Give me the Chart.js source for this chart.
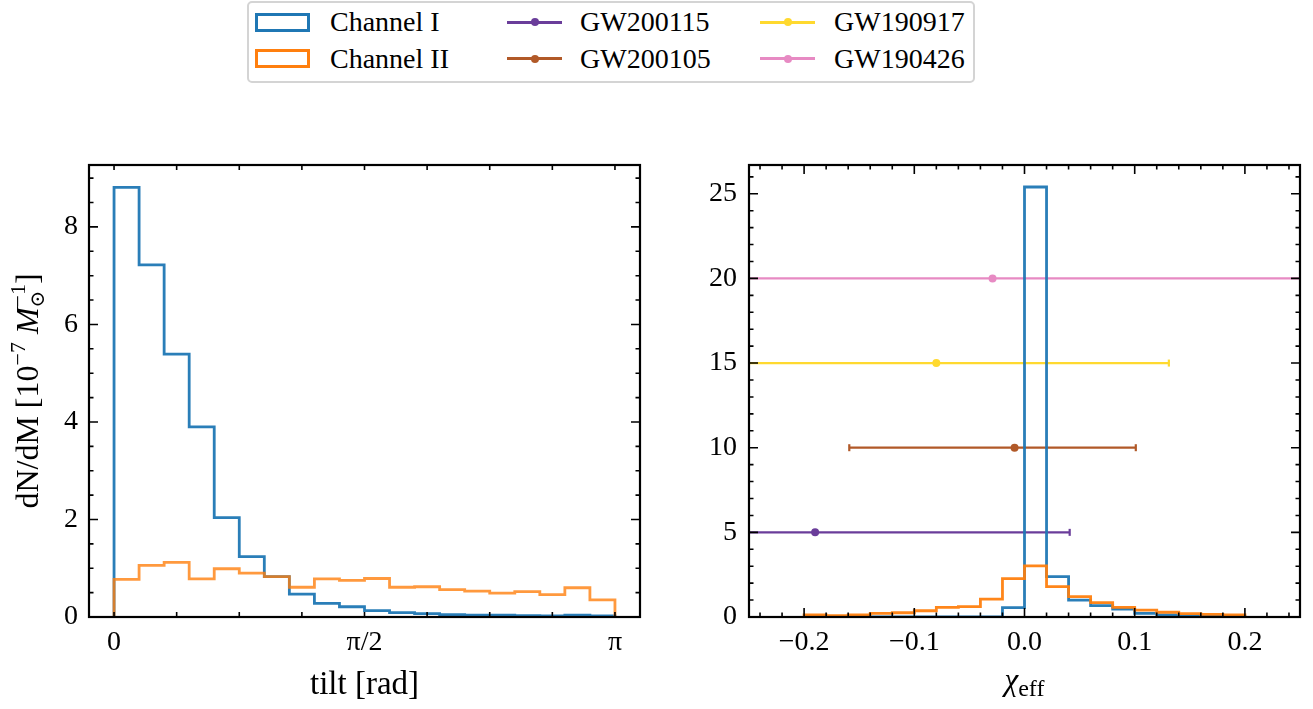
<!DOCTYPE html>
<html>
<head>
<meta charset="utf-8">
<title>Tilt and chi_eff distributions</title>
<script src="https://cdn.jsdelivr.net/npm/chart.js@4.4.1/dist/chart.umd.min.js"></script>
<style>
  html, body { margin: 0; padding: 0; background: #fff; }
  #page { position: relative; width: 1313px; height: 709px; overflow: hidden; font-family: "Liberation Serif", "DejaVu Serif", serif; }
  #tiltChart { position: absolute; left: 0; top: 0; }
  #chiChart { position: absolute; left: 690px; top: 0; }
  #legend { position: absolute; left: 247px; top: 1px; width: 728px; height: 82px; box-sizing: border-box;
            border: 2px solid #d4d4d4; border-radius: 5px; background: #fff; }
  .handle { position: absolute; width: 55px; }
  .patch { height: 19px; box-sizing: border-box; border: 3px solid; background: #fff; }
  .line { height: 3px; }
  .dot { position: absolute; left: 23.5px; top: -2.5px; width: 8px; height: 8px; border-radius: 50%; }
  .label { position: absolute; height: 32px; line-height: 32px; font-size: 28px; white-space: nowrap; color: #000; }
</style>
</head>
<body>
<div id="page">
  <div id="legend"></div>
  <canvas id="tiltChart" width="690" height="709"></canvas>
  <canvas id="chiChart" width="623" height="709"></canvas>
</div>
<script>
// ================= DATA =================
// left panel: 20 bins over [0, pi]
const tiltTickLabels = ["0", "", "", "", "π/2", "", "", "", "π"];   // ticks every pi/8
const tiltYTicks = [0, 2, 4, 6, 8];
const tiltChannelI  = [8.81, 7.22, 5.39, 3.90, 2.04, 1.24, 0.83, 0.47, 0.28, 0.21,
                       0.13, 0.09, 0.07, 0.05, 0.04, 0.04, 0.03, 0.02, 0.04, 0.02];
const tiltChannelII = [0.77, 1.06, 1.12, 0.78, 0.99, 0.90, 0.83, 0.61, 0.78, 0.75,
                       0.79, 0.61, 0.62, 0.56, 0.53, 0.49, 0.52, 0.46, 0.60, 0.35];

// right panel: 20 bins of 0.02 over [-0.2, 0.2]
const chiTicks = [-0.2, -0.1, 0, 0.1, 0.2];
const chiTickLabels = ["−0.2", "−0.1", "0.0", "0.1", "0.2"];
const chiYTicks = [0, 5, 10, 15, 20, 25];
const chiChannelI  = [0, 0, 0, 0, 0, 0, 0, 0, 0, 0.55,
                      25.4, 2.38, 1.00, 0.67, 0.47, 0.22, 0.12, 0.07, 0.04, 0.02];
const chiChannelII = [0.12, 0.08, 0.12, 0.22, 0.25, 0.37, 0.57, 0.61, 1.05, 2.27,
                      3.02, 1.79, 1.20, 0.85, 0.57, 0.41, 0.28, 0.20, 0.15, 0.12];

// events: level on the y axis, median chi_eff and interval
const eventNames = ["GW200115", "GW200105", "GW190917", "GW190426"];
const eventLevel = [5, 10, 15, 20];
const eventChi   = [-0.19, -0.009, -0.08, -0.029];
const eventLo    = [-0.40, -0.159, -0.40, -0.40];
const eventHi    = [0.041, 0.101, 0.131, 0.40];

// ================= STYLE =================
const BLUE = "#1f77b4";
const ORANGE = "#ff7f0e";
const eventColors = ["#6a3d9a", "#b15928", "#ffd92f", "#e78ac3"];
const SERIF = '"Liberation Serif", "DejaVu Serif", serif';


// ================= HELPERS =================
function stepOutline(start, width, values) {
    const pts = [{ x: start, y: 0 }];
    values.forEach((v, i) => pts.push({ x: start + i * width, y: v }));
    pts.push({ x: start + values.length * width, y: 0 });
    return pts;
}

function histDataset(label, values, start, width, color, order) {
    return {
        label,
        data: stepOutline(start, width, values),
        stepped: true,
        borderColor: color,
        borderWidth: 2.8,
        pointRadius: 0,
        fill: false,
        order
    };
}

function errorBarDataset(i) {
    const y = eventLevel[i];
    const c = eventColors[i];
    return {
        label: eventNames[i],
        data: [{ x: eventLo[i], y }, { x: eventChi[i], y }, { x: eventHi[i], y }],
        borderColor: c,
        borderWidth: 2.2,
        pointStyle: ["line", "circle", "line"],
        pointRotation: [90, 0, 90],
        pointRadius: [3.5, 4, 3.5],
        pointBorderWidth: [2.2, 0, 2.2],
        pointBorderColor: c,
        pointBackgroundColor: c,
        fill: false,
        order: 5
    };
}

function fixedTicks(values) {
    return scale => { scale.ticks = values.map(v => ({ value: v })); };
}


// ================= PLUGINS =================
// inward ticks on all four sides + frame (matplotlib style)
const frameTicks = {
    id: "frameTicks",
    afterDraw(chart, args, o) {
        const { ctx, chartArea: a } = chart;
        const xs = chart.scales.x, ys = chart.scales.y;
        ctx.save();
        ctx.strokeStyle = "#000";
        ctx.lineWidth = 1.6;
        ctx.beginPath();

        const xTick = (v, len) => {
            const p = xs.getPixelForValue(v);
            ctx.moveTo(p, a.bottom); ctx.lineTo(p, a.bottom - len);
            ctx.moveTo(p, a.top); ctx.lineTo(p, a.top + len);
        };
        const yTick = (v, len) => {
            const p = ys.getPixelForValue(v);
            ctx.moveTo(a.left, p); ctx.lineTo(a.left + len, p);
            ctx.moveTo(a.right, p); ctx.lineTo(a.right - len, p);
        };
        const minors = (scale, step, majors) => {
            const out = [];
            if (!step) return out;
            for (let v = Math.ceil(scale.min / step) * step; v <= scale.max + 1e-9; v += step) {
                if (!majors.some(m => Math.abs(m - v) < step / 10)) out.push(v);
            }
            return out;
        };

        const xMaj = xs.ticks.map(t => t.value);
        const yMaj = ys.ticks.map(t => t.value);
        xMaj.forEach(v => xTick(v, o.xMajorLen));
        yMaj.forEach(v => yTick(v, 9));
        minors(xs, o.xMinor, xMaj).forEach(v => xTick(v, 4.5));
        minors(ys, o.yMinor, yMaj).forEach(v => yTick(v, 4.5));
        ctx.stroke();

        ctx.lineWidth = 2.2;
        ctx.strokeRect(a.left, a.top, a.right - a.left, a.bottom - a.top);
        ctx.restore();
    }
};

function drawRuns(ctx, runs, cx, cy, angle) {
    ctx.save();
    ctx.translate(cx, cy);
    ctx.rotate(angle);
    ctx.fillStyle = "#000";
    ctx.textAlign = "left";
    ctx.textBaseline = "alphabetic";
    const fontOf = r => (r.italic ? "italic " : "") + r.size + "px " + SERIF;

    // measure, stacked runs share the x of the previous run
    let total = 0, prevStart = 0, prevW = 0;
    const layout = runs.map(r => {
        ctx.font = fontOf(r);
        const w = ctx.measureText(r.text).width;
        let x;
        if (r.stack) {
            x = prevStart;
            total = prevStart + Math.max(prevW, w);
        } else {
            x = total;
            total += w;
        }
        prevStart = x; prevW = w;
        return x;
    });

    runs.forEach((r, i) => {
        ctx.font = fontOf(r);
        ctx.fillText(r.text, layout[i] - total / 2, r.dy || 0);
    });
    ctx.restore();
}

const axisTitles = {
    id: "axisTitles",
    afterDraw(chart, args, o) {
        (o.items || []).forEach(it => drawRuns(chart.ctx, it.runs, it.x, it.y, it.angle || 0));
    }
};


// ================= OPTIONS =================
function panelOptions(cfg) {
    const font = { family: SERIF, size: 28 };
    return {
        responsive: false,
        animation: false,
        events: [],
        layout: { padding: { top: 165, right: cfg.padRight, bottom: 0, left: 0 } },
        plugins: {
            legend: { display: false },
            tooltip: { enabled: false },
            frameTicks: cfg.ticks,
            axisTitles: { items: cfg.titles }
        },
        scales: {
            x: {
                type: "linear",
                min: cfg.xMin,
                max: cfg.xMax,
                grid: { display: false, drawTicks: false },
                border: { display: false },
                afterBuildTicks: fixedTicks(cfg.xTicks),
                ticks: {
                    autoSkip: false,
                    maxRotation: 0,
                    padding: 9,
                    color: "#000",
                    font,
                    callback: (v, i) => cfg.xLabels[i]
                },
                afterFit: s => { s.height = 92; }
            },
            y: {
                min: 0,
                max: cfg.yMax,
                grid: { display: false, drawTicks: false },
                border: { display: false },
                afterBuildTicks: fixedTicks(cfg.yTicks),
                ticks: {
                    padding: cfg.yPad,
                    color: "#000",
                    font,
                    callback: v => String(v)
                },
                afterFit: s => { s.width = cfg.yWidth; }
            }
        }
    };
}


// ================= CHARTS =================
const TILT_W = Math.PI / tiltChannelI.length;
const CHI_START = -0.2, CHI_W = 0.02;

new Chart(document.getElementById("tiltChart"), {
    type: "line",
    data: {
        datasets: [
            histDataset("Channel I", tiltChannelI, 0, TILT_W, "rgba(31,119,180,0.95)", 1),
            histDataset("Channel II", tiltChannelII, 0, TILT_W, "rgba(255,127,14,0.8)", 0)
        ]
    },
    options: panelOptions({
        padRight: 50, yWidth: 89, yPad: 11,
        xMin: -0.05 * Math.PI, xMax: 1.05 * Math.PI,
        xTicks: tiltTickLabels.map((_, k) => k * Math.PI / 8),
        xLabels: tiltTickLabels,
        yMax: 9.27, yTicks: tiltYTicks,
        ticks: { xMajorLen: 5, xMinor: 0, yMinor: 0.5 },
        titles: [
            { x: 364.5, y: 694, runs: [{ text: "tilt [rad]", size: 33 }] },
            {
                x: 38, y: 391, angle: -Math.PI / 2,
                runs: [
                    { text: "dN/dM [10", size: 32 },
                    { text: "−7", size: 22, dy: -13 },
                    { text: " ", size: 32 },
                    { text: "M", size: 32, italic: true },
                    { text: "⊙", size: 20, dy: 6 },
                    { text: "−1", size: 22, dy: -13, stack: true },
                    { text: "]", size: 32 }
                ]
            }
        ]
    }),
    plugins: [frameTicks, axisTitles]
});

new Chart(document.getElementById("chiChart"), {
    type: "line",
    data: {
        datasets: [
            histDataset("Channel I", chiChannelI, CHI_START, CHI_W, "rgba(31,119,180,0.95)", 1),
            histDataset("Channel II", chiChannelII, CHI_START, CHI_W, "rgba(255,127,14,0.95)", 0),
            ...eventNames.map((_, i) => errorBarDataset(i))
        ]
    },
    options: panelOptions({
        padRight: 13, yWidth: 59, yPad: 12,
        xMin: -0.25, xMax: 0.25,
        xTicks: chiTicks, xLabels: chiTickLabels,
        yMax: 26.7, yTicks: chiYTicks,
        ticks: { xMajorLen: 9, xMinor: 0.02, yMinor: 1 },
        titles: [
            {
                x: 334.5, y: 690,
                runs: [
                    { text: "χ", size: 31, italic: true },
                    { text: "eff", size: 24, dy: 6 }
                ]
            }
        ]
    }),
    plugins: [frameTicks, axisTitles]
});


// ================= LEGEND =================
const legendEntries = [
    { label: "Channel I", kind: "patch", color: BLUE },
    { label: "Channel II", kind: "patch", color: ORANGE },
    ...eventNames.map((n, i) => ({ label: n, kind: "line", color: eventColors[i] }))
];
const handleLeft = [6, 258, 511];
const textLeft = [81, 331, 585];
const rowCenter = [19, 55.5];

const legendBox = document.getElementById("legend");
legendEntries.forEach((e, i) => {
    const col = Math.floor(i / 2), row = i % 2;
    const h = document.createElement("div");
    h.className = "handle " + e.kind;
    if (e.kind === "patch") {
        h.style.borderColor = e.color;
        h.style.top = (rowCenter[row] - 9.5) + "px";
    } else {
        h.style.background = e.color;
        h.style.top = (rowCenter[row] - 1.5) + "px";
        const d = document.createElement("div");
        d.className = "dot";
        d.style.background = e.color;
        h.appendChild(d);
    }
    h.style.left = handleLeft[col] + "px";
    legendBox.appendChild(h);

    const t = document.createElement("div");
    t.className = "label";
    t.textContent = e.label;
    t.style.left = textLeft[col] + "px";
    t.style.top = (rowCenter[row] - 16) + "px";
    legendBox.appendChild(t);
});
</script>
</body>
</html>
